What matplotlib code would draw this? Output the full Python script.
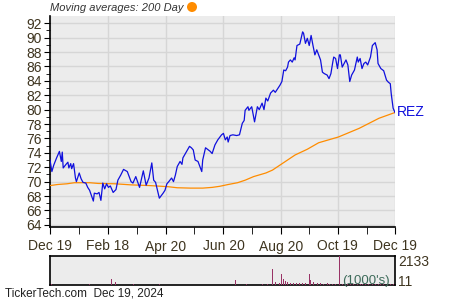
import matplotlib
matplotlib.use("Agg")
import matplotlib.pyplot as plt
from matplotlib.patches import Ellipse
import numpy as np
import pandas as pd

plt.rcParams['font.family'] = ['Liberation Sans', 'DejaVu Sans']

start_date = "2023-12-19"
ticker = "REZ"

price_days = [0, 2, 4, 7, 10, 12, 13, 14, 17, 19, 20, 22, 23, 25, 27, 28, 31, 33, 35, 38,
              40, 42, 46, 47, 50, 52, 54, 56, 58, 60, 62, 64, 67, 70, 72, 75, 78, 82, 86, 88,
              91, 95, 99, 102, 105, 108, 110, 112, 116, 120, 122, 124, 126, 129, 131, 133, 135, 138, 140, 141,
              145, 148, 150, 152, 154, 157, 161, 162, 165, 168, 170, 172, 175, 178, 182, 184, 186, 188, 189, 191,
              194, 198, 201, 204, 206, 207, 210, 211, 214, 217, 220, 222, 225, 227, 229, 231, 234, 237, 239, 244,
              246, 248, 250, 252, 253, 255, 257, 259, 260, 262, 265, 268, 269, 271, 273, 275, 277, 279, 281, 283,
              285, 287, 289, 291, 294, 296, 298, 300, 301, 303, 305, 307, 308, 310, 312, 314, 316, 318, 320, 323,
              326, 327, 329, 331, 333, 335, 337, 340, 342, 345, 347, 348, 351, 354, 357, 359, 361, 362, 364, 366]
price_values = [73.0, 71.4, 72.3, 73.3, 74.2, 72.8, 74.1, 71.9, 72.4, 72.7, 71.9, 72.5, 71.8, 72.5, 70.5, 70.0, 71.2, 70.4, 69.9, 69.8,
                69.2, 68.8, 67.3, 68.4, 68.3, 68.5, 67.4, 69.8, 69.0, 69.7, 69.2, 69.4, 68.5, 68.9, 70.2, 70.9, 71.7, 71.4, 70.0, 69.8,
                70.7, 69.2, 71.5, 69.5, 70.5, 72.6, 70.2, 69.9, 67.7, 68.4, 68.8, 69.7, 70.0, 70.5, 70.0, 70.9, 72.1, 72.8, 72.4, 73.3,
                74.2, 74.9, 74.7, 74.4, 73.0, 72.8, 71.4, 73.0, 74.7, 74.4, 74.2, 73.9, 75.1, 75.8, 76.5, 76.7, 75.8, 76.2, 75.5, 76.4,
                76.5, 76.4, 76.5, 78.1, 78.5, 79.9, 80.4, 79.9, 80.4, 78.3, 80.4, 80.0, 80.9, 80.0, 81.6, 81.2, 82.3, 82.7, 82.4, 83.4,
                83.9, 85.5, 85.4, 85.9, 86.6, 86.9, 86.6, 87.2, 86.9, 88.9, 89.1, 90.8, 90.6, 89.2, 89.9, 88.9, 90.3, 88.9, 87.6, 88.3,
                87.6, 86.9, 85.2, 85.0, 84.8, 84.3, 85.0, 86.6, 87.3, 87.1, 85.7, 87.6, 87.6, 85.9, 86.4, 86.9, 86.2, 83.9, 84.8, 85.5,
                87.3, 86.6, 87.1, 85.7, 86.4, 86.6, 86.2, 87.3, 88.9, 89.3, 88.3, 86.4, 85.7, 85.4, 84.1, 83.8, 83.6, 82.2, 80.2, 79.6]

ma_days = [0, 8, 18, 26, 42, 51, 69, 86, 106, 125, 135, 149, 162, 172, 180, 189, 199, 207, 216, 229,
           236, 244, 260, 273, 285, 306, 328, 349, 366]
ma_values = [69.45, 69.6, 69.7, 69.85, 69.85, 69.75, 69.7, 69.55, 69.45, 69.3, 69.15, 69.1, 69.1, 69.2, 69.35,
             69.6, 69.85, 70.2, 70.7, 71.2, 71.6, 72.3, 73.7, 74.5, 75.4, 76.2, 77.4, 78.8, 79.6]

vol_days = [2, 42, 65, 69, 89, 116, 197, 208, 225, 227, 231, 236, 239, 243, 246, 248, 250, 252, 255, 258,
            262, 265, 268, 271, 275, 276, 280, 284, 287, 290, 294, 297, 300, 303, 307, 310, 313, 316, 319, 322,
            326, 329, 332, 335, 338, 342, 345, 348, 351, 354, 358, 361, 364]
vol_values = [80, 100, 470, 210, 100, 100, 380, 80, 70, 210, 70, 1190, 210, 130, 830, 430, 280, 210, 130, 120,
              130, 120, 130, 120, 830, 360, 210, 130, 130, 110, 130, 90, 90, 80, 2133, 90, 80, 90, 80, 90,
              80, 90, 80, 90, 80, 90, 80, 90, 80, 90, 80, 90, 80]
vol_max_label = "2133"
vol_min_label = "11"

tick_dates = ["2023-12-19", "2024-02-18", "2024-04-20", "2024-06-20", "2024-08-20", "2024-10-19", "2024-12-19"]
tick_labels = ["Dec 19", "Feb 18", "Apr 20", "Jun 20", "Aug 20", "Oct 19", "Dec 19"]
minor_dates = ["2024-01-19", "2024-03-20", "2024-05-20", "2024-07-20", "2024-09-19", "2024-11-19"]

t0 = pd.Timestamp(start_date)
pd_dates = t0 + pd.to_timedelta(price_days, unit="D")
ma_dates = t0 + pd.to_timedelta(ma_days, unit="D")
v_dates = t0 + pd.to_timedelta(vol_days, unit="D")

txt_col = "#3f3520"
bg = "#ececec"
grid_col = "#d6d6d6"

fig = plt.figure(figsize=(4.5, 3.0), dpi=100)
ax = fig.add_axes([50/450, 1-227/300, 345/450, 211/300])
axv = fig.add_axes([50/450, 1-285/300, 345/450, 29/300])

for a in (ax, axv):
    a.set_facecolor(bg)

ax.plot(ma_dates, ma_values, color="#ff8c00", lw=0.9, zorder=3)
ax.plot(pd_dates, price_values, color="#1010dd", lw=0.9, zorder=4)

xmin = pd.Timestamp(tick_dates[0])
xmax = pd.Timestamp(tick_dates[-1])
ax.set_xlim(xmin, xmax)
ax.set_ylim(63.7, 93.0)

ax.set_yticks(np.arange(64, 93, 2))
ax.set_yticks(np.arange(65, 93, 2), minor=True)
ax.set_xticks(pd.to_datetime(tick_dates))
ax.set_xticklabels(tick_labels)
ax.set_xticks(pd.to_datetime(minor_dates), minor=True)
ax.grid(True, which="major", color=grid_col, lw=1.0, zorder=0)
ax.tick_params(axis="both", which="both", direction="out", color="black", labelcolor=txt_col, labelsize=10)
ax.tick_params(axis="y", which="major", length=4, pad=2)
ax.tick_params(axis="y", which="minor", length=3)
ax.tick_params(axis="x", which="both", length=5, pad=4)
for s in ("top", "right"):
    ax.spines[s].set_visible(False)
for s in ("left", "bottom"):
    ax.spines[s].set_color("black")
    ax.spines[s].set_linewidth(1.2)

ax.text(1.005, (price_values[-1] - 63.7) / (93.0 - 63.7), ticker, transform=ax.transAxes,
        color="#1010dd", fontsize=10, va="center", ha="left")

fig.text(50/450, 1-8/300, "Moving averages: 200 Day", fontsize=8, style="italic",
         color="#333333", va="center", ha="left")
fig.add_artist(Ellipse((192/450, 1-7/300), 10/450, 10/300, transform=fig.transFigure,
                       facecolor="#ff8c00", edgecolor="none", clip_on=False))

axv.bar(v_dates, vol_values, width=1.0, color="#993366", zorder=3)
axv.set_xlim(xmin, xmax)
axv.set_ylim(0, 2133)
axv.set_xticks([])
axv.set_yticks([])
for s in axv.spines.values():
    s.set_color("black")
    s.set_linewidth(1.2)
axv.text(1.01, 0.8, vol_max_label, transform=axv.transAxes, fontsize=10, color=txt_col, va="center", ha="left")
axv.text(1.01, 0.12, vol_min_label, transform=axv.transAxes, fontsize=10, color=txt_col, va="center", ha="left")
axv.text(0.985, 0.15, "(1000's)", transform=axv.transAxes, fontsize=9.5, color="#3d6b5a",
         va="center", ha="right", zorder=5)

fig.text(5/450, 1-294/300, "TickerTech.com  Dec 19, 2024", fontsize=8.5, color="#222222",
         va="center", ha="left")

fig.savefig("out.png", dpi=100)
